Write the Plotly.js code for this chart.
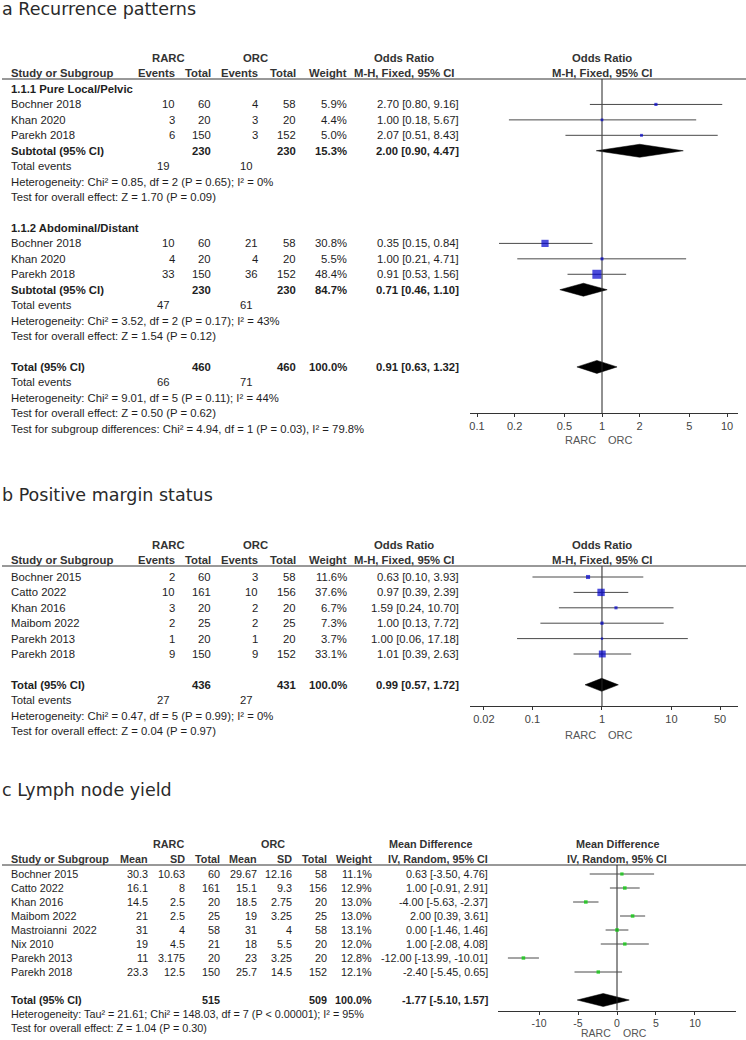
<!DOCTYPE html>
<html><head><meta charset="utf-8">
<script src="https://cdn.plot.ly/plotly-3.0.1.min.js"></script>
<style>html,body{margin:0;padding:0;background:#fff}#chart{width:746px;height:1040px}</style>
</head><body><div id="chart"></div>
<script>
// ---------- DATA: panel a (Recurrence patterns) ----------
const aTitle = "a Recurrence patterns";
const aGroupName = ["1.1.1 Pure Local/Pelvic", "1.1.2 Abdominal/Distant"];
const aStudy = ["Bochner 2018", "Khan 2020", "Parekh 2018", "Bochner 2018", "Khan 2020", "Parekh 2018"];
const aGroupOf = [0, 0, 0, 1, 1, 1];
const aRarcEvents = [10, 3, 6, 10, 4, 33];
const aRarcTotal = [60, 20, 150, 60, 20, 150];
const aOrcEvents = [4, 3, 3, 21, 4, 36];
const aOrcTotal = [58, 20, 152, 58, 20, 152];
const aWeight = [5.9, 4.4, 5.0, 30.8, 5.5, 48.4];
const aOR = [2.70, 1.00, 2.07, 0.35, 1.00, 0.91];
const aLo = [0.80, 0.18, 0.51, 0.15, 0.21, 0.53];
const aHi = [9.16, 5.67, 8.43, 0.84, 4.71, 1.56];
const aSubRarcTotal = [230, 230];
const aSubOrcTotal = [230, 230];
const aSubWeight = [15.3, 84.7];
const aSubOR = [2.00, 0.71];
const aSubLo = [0.90, 0.46];
const aSubHi = [4.47, 1.10];
const aSubEvRarc = [19, 47];
const aSubEvOrc = [10, 61];
const aSubHet = ["Heterogeneity: Chi² = 0.85, df = 2 (P = 0.65); I² = 0%", "Heterogeneity: Chi² = 3.52, df = 2 (P = 0.17); I² = 43%"];
const aSubTest = ["Test for overall effect: Z = 1.70 (P = 0.09)", "Test for overall effect: Z = 1.54 (P = 0.12)"];
const aTot = {rarc: 460, orc: 460, weight: 100.0, or: 0.91, lo: 0.63, hi: 1.32, evR: 66, evO: 71};
const aTotHet = "Heterogeneity: Chi² = 9.01, df = 5 (P = 0.11); I² = 44%";
const aTotTest = "Test for overall effect: Z = 0.50 (P = 0.62)";
const aSubgroupTest = "Test for subgroup differences: Chi² = 4.94, df = 1 (P = 0.03), I² = 79.8%";
const aTickVals = [0.1, 0.2, 0.5, 1, 2, 5, 10];
const aTickText = ["0.1", "0.2", "0.5", "1", "2", "5", "10"];

// ---------- DATA: panel b (Positive margin status) ----------
const bTitle = "b Positive margin status";
const bStudy = ["Bochner 2015", "Catto 2022", "Khan 2016", "Maibom 2022", "Parekh 2013", "Parekh 2018"];
const bRarcEvents = [2, 10, 3, 2, 1, 9];
const bRarcTotal = [60, 161, 20, 25, 20, 150];
const bOrcEvents = [3, 10, 2, 2, 1, 9];
const bOrcTotal = [58, 156, 20, 25, 20, 152];
const bWeight = [11.6, 37.6, 6.7, 7.3, 3.7, 33.1];
const bOR = [0.63, 0.97, 1.59, 1.00, 1.00, 1.01];
const bLo = [0.10, 0.39, 0.24, 0.13, 0.06, 0.39];
const bHi = [3.93, 2.39, 10.70, 7.72, 17.18, 2.63];
const bTot = {rarc: 436, orc: 431, weight: 100.0, or: 0.99, lo: 0.57, hi: 1.72, evR: 27, evO: 27};
const bTotHet = "Heterogeneity: Chi² = 0.47, df = 5 (P = 0.99); I² = 0%";
const bTotTest = "Test for overall effect: Z = 0.04 (P = 0.97)";
const bTickVals = [0.02, 0.1, 1, 10, 50];
const bTickText = ["0.02", "0.1", "1", "10", "50"];

// ---------- DATA: panel c (Lymph node yield) ----------
const cTitle = "c Lymph node yield";
const cStudy = ["Bochner 2015", "Catto 2022", "Khan 2016", "Maibom 2022", "Mastroianni  2022", "Nix 2010", "Parekh 2013", "Parekh 2018"];
const cRarcMean = [30.3, 16.1, 14.5, 21, 31, 19, 11, 23.3];
const cRarcSD = [10.63, 8, 2.5, 2.5, 4, 4.5, 3.175, 12.5];
const cRarcTotal = [60, 161, 20, 25, 58, 21, 20, 150];
const cOrcMean = [29.67, 15.1, 18.5, 19, 31, 18, 23, 25.7];
const cOrcSD = [12.16, 9.3, 2.75, 3.25, 4, 5.5, 3.25, 14.5];
const cOrcTotal = [58, 156, 20, 25, 58, 20, 20, 152];
const cWeight = [11.1, 12.9, 13.0, 13.0, 13.1, 12.0, 12.8, 12.1];
const cMD = [0.63, 1.00, -4.00, 2.00, 0.00, 1.00, -12.00, -2.40];
const cLo = [-3.50, -0.91, -5.63, 0.39, -1.46, -2.08, -13.99, -5.45];
const cHi = [4.76, 2.91, -2.37, 3.61, 1.46, 4.08, -10.01, 0.65];
const cTot = {rarc: 515, orc: 509, weight: 100.0, md: -1.77, lo: -5.10, hi: 1.57};
const cTotHet = "Heterogeneity: Tau² = 21.61; Chi² = 148.03, df = 7 (P &lt; 0.00001); I² = 95%";
const cTotTest = "Test for overall effect: Z = 1.04 (P = 0.30)";
const cTickVals = [-10, -5, 0, 5, 10];
const cTickText = ["-10", "-5", "0", "5", "10"];

// ---------- LAYOUT HELPERS ----------
const W = 746, H = 1040;
const FONT = "Liberation Sans, Arial, sans-serif";
const TFONT = "DejaVu Sans, Verdana, sans-serif";
const TXT = "#1e1e1e";
const FA = 11.3;   // table font size, panels a and b
const FS = 10.8;   // table font size, panel c
const annotations = [], shapes = [], traces = [];
const px = v => v / W, py = v => 1 - v / H;
function T(x, y, text, anchor, size, bold, color, fam) {
  annotations.push({xref: "paper", yref: "paper", x: px(x), y: py(y), xanchor: anchor || "left", yanchor: "middle",
    text: bold ? "<b>" + text + "</b>" : text, showarrow: false, borderpad: 0, borderwidth: 0,
    font: {family: fam || FONT, size: size || FA, color: color || TXT}});
}
function hline(y) {
  shapes.push({type: "line", xref: "paper", yref: "paper", x0: px(2), x1: px(746), y0: py(y), y1: py(y), line: {color: "#333", width: 1}});
}
const f2 = v => v.toFixed(2);
const ci = (e, l, h) => f2(e) + " [" + f2(l) + ", " + f2(h) + "]";
const pct = v => v.toFixed(1) + "%";

// panel geometry (pixels)
const PA = {row0: 89, step: 15.44, head: 79, axis: 413, x0: 470, x1: 738, ax: "x", ay: "y", lab: 440, lf: 11};
const PB = {row0: 577, step: 15.4, head: 566, axis: 706, x0: 470, x1: 738, ax: "x2", ay: "y2", lab: 735, lf: 11};
const PC = {row0: 874, step: 14.0, head: 865, axis: 1010.5, x0: 498, x1: 736, ax: "x3", ay: "y3", lab: 1033, lf: 10.5};
const rowY = (P, i) => P.row0 + i * P.step;
const yRange = P => [(P.axis - P.row0) / P.step, (P.head - P.row0) / P.step];

const C = {study: 11, ev1: 175, tot1: 211, ev2: 258, tot2: 296, wt: 347, ci: 459, te1: 157, te2: 240, mid: 404, g1: 168, g2: 255, plot: 602};

function studyTrace(P, xs, lo, hi, rows, weights, k, color) {
  traces.push({type: "scatter", mode: "markers", xaxis: P.ax, yaxis: P.ay, x: xs, y: rows, cliponaxis: false, hoverinfo: "skip",
    marker: {symbol: "square", color: color, size: weights.map(w => k * Math.sqrt(w)), line: {width: 0}},
    error_x: {type: "data", symmetric: false, array: xs.map((v, i) => hi[i] - v), arrayminus: xs.map((v, i) => v - lo[i]),
      width: 0, thickness: 1, color: "#4a4a4a"}});
}
function diamond(P, est, lo, hi, row) {
  const h = 6.5 / P.step;
  traces.push({type: "scatter", mode: "lines", xaxis: P.ax, yaxis: P.ay, x: [lo, est, hi, est, lo], y: [row, row - h, row, row + h, row],
    fill: "toself", fillcolor: "#000", line: {color: "#000", width: 0.5}, hoverinfo: "skip", cliponaxis: false});
}
function refLine(P, v) {
  traces.push({type: "scatter", mode: "lines", xaxis: P.ax, yaxis: P.ay, x: [v, v], y: yRange(P), line: {color: "#222", width: 1}, hoverinfo: "skip", cliponaxis: false});
}
function sideLabels(P) {
  annotations.push({xref: P.ax, yref: "paper", x: 0, y: py(P.lab), xanchor: "right", yanchor: "middle", xshift: -5, text: "RARC", showarrow: false, borderpad: 0, font: {family: FONT, size: P.lf, color: "#555"}});
  annotations.push({xref: P.ax, yref: "paper", x: 0, y: py(P.lab), xanchor: "left", yanchor: "middle", xshift: 5, text: "ORC", showarrow: false, borderpad: 0, font: {family: FONT, size: P.lf, color: "#555"}});
}
function orHeader(P, titleY, title) {
  const gy = P.head - 21, hy = P.head - 6;
  T(2, titleY, title, "left", 17.5, false, "#2a2a2a", TFONT);
  T(C.g1, gy, "RARC", "center", FA, true, "#333");
  T(C.g2, gy, "ORC", "center", FA, true, "#333");
  T(C.mid, gy, "Odds Ratio", "center", FA, true, "#333");
  T(C.plot, gy, "Odds Ratio", "center", FA, true, "#333");
  T(C.study, hy, "Study or Subgroup", "left", FA, true, "#333");
  T(C.ev1, hy, "Events", "right", FA, true, "#333");
  T(C.tot1, hy, "Total", "right", FA, true, "#333");
  T(C.ev2, hy, "Events", "right", FA, true, "#333");
  T(C.tot2, hy, "Total", "right", FA, true, "#333");
  T(C.wt, hy, "Weight", "right", FA, true, "#333");
  T(C.mid, hy, "M-H, Fixed, 95% CI", "center", FA, true, "#333");
  T(C.plot, hy, "M-H, Fixed, 95% CI", "center", FA, true, "#333");
  hline(P.head);
}
function orStudyRow(P, r, name, e1, t1, e2, t2, w, est, lo, hi) {
  const y = rowY(P, r);
  T(C.study, y, name); T(C.ev1, y, String(e1), "right"); T(C.tot1, y, String(t1), "right");
  T(C.ev2, y, String(e2), "right"); T(C.tot2, y, String(t2), "right"); T(C.wt, y, pct(w), "right");
  T(C.ci, y, ci(est, lo, hi), "right");
}
function orSumRow(P, r, name, t1, t2, w, est, lo, hi) {
  const y = rowY(P, r);
  T(C.study, y, name, "left", FA, true); T(C.tot1, y, String(t1), "right", FA, true); T(C.tot2, y, String(t2), "right", FA, true);
  T(C.wt, y, pct(w), "right", FA, true); T(C.ci, y, ci(est, lo, hi), "right", FA, true);
  diamond(P, est, lo, hi, r);
}
function eventsRow(P, r, e1, e2) {
  const y = rowY(P, r);
  T(C.study, y, "Total events"); T(C.te1, y, String(e1)); T(C.te2, y, String(e2));
}

// ---------- PANEL A ----------
orHeader(PA, 9, aTitle);
{
  let r = 0; const rows = [];
  for (let g = 0; g < aGroupName.length; g++) {
    T(C.study, rowY(PA, r), aGroupName[g], "left", FA, true); r++;
    aStudy.forEach((s, i) => {
      if (aGroupOf[i] !== g) return;
      orStudyRow(PA, r, s, aRarcEvents[i], aRarcTotal[i], aOrcEvents[i], aOrcTotal[i], aWeight[i], aOR[i], aLo[i], aHi[i]);
      rows[i] = r; r++;
    });
    orSumRow(PA, r, "Subtotal (95% CI)", aSubRarcTotal[g], aSubOrcTotal[g], aSubWeight[g], aSubOR[g], aSubLo[g], aSubHi[g]); r++;
    eventsRow(PA, r, aSubEvRarc[g], aSubEvOrc[g]); r++;
    T(C.study, rowY(PA, r), aSubHet[g]); r++;
    T(C.study, rowY(PA, r), aSubTest[g]); r++;
    r++;
  }
  orSumRow(PA, r, "Total (95% CI)", aTot.rarc, aTot.orc, aTot.weight, aTot.or, aTot.lo, aTot.hi); r++;
  eventsRow(PA, r, aTot.evR, aTot.evO); r++;
  T(C.study, rowY(PA, r), aTotHet); r++;
  T(C.study, rowY(PA, r), aTotTest); r++;
  T(C.study, rowY(PA, r), aSubgroupTest); r++;
  refLine(PA, 1);
  studyTrace(PA, aOR, aLo, aHi, rows, aWeight, 1.3, "#0000cc");
  sideLabels(PA);
}

// ---------- PANEL B ----------
orHeader(PB, 495, bTitle);
{
  let r = 0; const rows = [];
  bStudy.forEach((s, i) => {
    orStudyRow(PB, r, s, bRarcEvents[i], bRarcTotal[i], bOrcEvents[i], bOrcTotal[i], bWeight[i], bOR[i], bLo[i], bHi[i]);
    rows.push(r); r++;
  });
  r++;
  orSumRow(PB, r, "Total (95% CI)", bTot.rarc, bTot.orc, bTot.weight, bTot.or, bTot.lo, bTot.hi); r++;
  eventsRow(PB, r, bTot.evR, bTot.evO); r++;
  T(C.study, rowY(PB, r), bTotHet); r++;
  T(C.study, rowY(PB, r), bTotTest); r++;
  refLine(PB, 1);
  studyTrace(PB, bOR, bLo, bHi, rows, bWeight, 1.2, "#0000cc");
  sideLabels(PB);
}

// ---------- PANEL C ----------
const CC = {study: 11, m1: 148, sd1: 185, t1: 220, m2: 257, sd2: 292, t2: 327, wt: 372, ci: 488, g1: 168, g2: 273, mid: 430, plot: 617};
{
  const P = PC;
  const gy = P.head - 21, hy = P.head - 6;
  T(2, 790, cTitle, "left", 17.5, false, "#2a2a2a", TFONT);
  T(CC.g1, gy, "RARC", "center", FS, true, "#333");
  T(CC.g2, gy, "ORC", "center", FS, true, "#333");
  T(CC.mid, gy, "Mean Difference", "center", FS, true, "#333");
  T(CC.plot, gy, "Mean Difference", "center", FS, true, "#333");
  T(CC.study, hy, "Study or Subgroup", "left", FS, true, "#333");
  T(CC.m1, hy, "Mean", "right", FS, true, "#333");
  T(CC.sd1, hy, "SD", "right", FS, true, "#333");
  T(CC.t1, hy, "Total", "right", FS, true, "#333");
  T(CC.m2, hy, "Mean", "right", FS, true, "#333");
  T(CC.sd2, hy, "SD", "right", FS, true, "#333");
  T(CC.t2, hy, "Total", "right", FS, true, "#333");
  T(CC.wt, hy, "Weight", "right", FS, true, "#333");
  T(CC.ci, hy, "IV, Random, 95% CI", "right", FS, true, "#333");
  T(CC.plot, hy, "IV, Random, 95% CI", "center", FS, true, "#333");
  hline(P.head);
  let r = 0; const rows = [];
  cStudy.forEach((s, i) => {
    const y = rowY(P, r);
    T(CC.study, y, s, "left", FS);
    T(CC.m1, y, String(cRarcMean[i]), "right", FS); T(CC.sd1, y, String(cRarcSD[i]), "right", FS); T(CC.t1, y, String(cRarcTotal[i]), "right", FS);
    T(CC.m2, y, String(cOrcMean[i]), "right", FS); T(CC.sd2, y, String(cOrcSD[i]), "right", FS); T(CC.t2, y, String(cOrcTotal[i]), "right", FS);
    T(CC.wt, y, pct(cWeight[i]), "right", FS); T(CC.ci, y, ci(cMD[i], cLo[i], cHi[i]), "right", FS);
    rows.push(r); r++;
  });
  r++;
  {
    const y = rowY(P, r);
    T(CC.study, y, "Total (95% CI)", "left", FS, true); T(CC.t1, y, String(cTot.rarc), "right", FS, true);
    T(CC.t2, y, String(cTot.orc), "right", FS, true); T(CC.wt, y, pct(cTot.weight), "right", FS, true);
    T(CC.ci, y, ci(cTot.md, cTot.lo, cTot.hi), "right", FS, true);
    diamond(P, cTot.md, cTot.lo, cTot.hi, r); r++;
  }
  T(CC.study, rowY(P, r), cTotHet, "left", FS); r++;
  T(CC.study, rowY(P, r), cTotTest, "left", FS); r++;
  refLine(P, 0);
  studyTrace(P, cMD, cLo, cHi, rows, cWeight, 1.0, "#00cc00");
  sideLabels(P);
}

// ---------- AXES ----------
function xAx(P, type, range, tv, tt, fsz) {
  return {domain: [px(P.x0), px(P.x1)], anchor: P.ay, type: type, range: range, tickmode: "array", tickvals: tv, ticktext: tt,
    showline: true, linecolor: "#333", linewidth: 1, ticks: "outside", ticklen: 3, tickcolor: "#333", showgrid: false, zeroline: false,
    tickfont: {family: FONT, size: fsz || 11, color: "#444"}, fixedrange: true};
}
function yAx(P) {
  return {domain: [py(P.axis), py(P.head)], range: yRange(P), visible: false, fixedrange: true, anchor: P.ax};
}
const layout = {
  width: W, height: H, margin: {l: 0, r: 0, t: 0, b: 0}, paper_bgcolor: "#fff", plot_bgcolor: "rgba(0,0,0,0)", showlegend: false,
  xaxis: xAx(PA, "log", [-1.056, 1.088], aTickVals, aTickText), yaxis: yAx(PA),
  xaxis2: xAx(PB, "log", [-1.899, 1.957], bTickVals, bTickText), yaxis2: yAx(PB),
  xaxis3: xAx(PC, "linear", [-15.26, 15.26], cTickVals, cTickText, 10.5), yaxis3: yAx(PC),
  annotations: annotations, shapes: shapes
};
Plotly.newPlot("chart", traces, layout, {staticPlot: true, displayModeBar: false});
</script></body></html>
